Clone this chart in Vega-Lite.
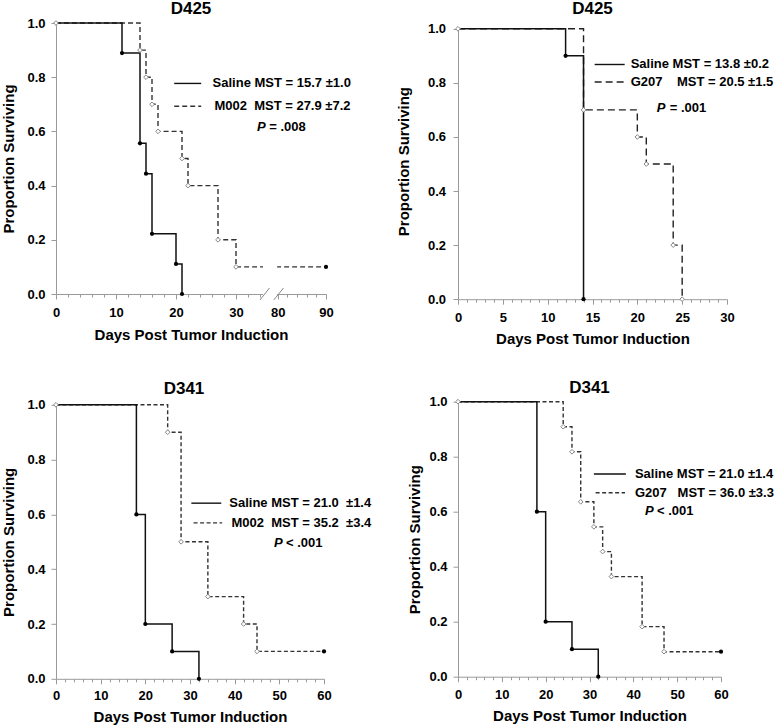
{
  "$schema": "https://vega.github.io/schema/vega-lite/v6.json",
  "background": "white",
  "padding": {"left": 1, "top": 0, "right": 0, "bottom": 0},
  "datasets": {
    "d425_m002": [
      {"day": 0, "surv": 1, "group": "Saline", "status": "start"},
      {"day": 11, "surv": 0.889, "group": "Saline", "status": "death"},
      {"day": 14, "surv": 0.556, "group": "Saline", "status": "death"},
      {"day": 15, "surv": 0.444, "group": "Saline", "status": "death"},
      {"day": 16, "surv": 0.222, "group": "Saline", "status": "death"},
      {"day": 20, "surv": 0.111, "group": "Saline", "status": "death"},
      {"day": 21, "surv": 0, "group": "Saline", "status": "death"},
      {"day": 0, "surv": 1, "group": "M002", "status": "start"},
      {"day": 14, "surv": 0.9, "group": "M002", "status": "death"},
      {"day": 15, "surv": 0.8, "group": "M002", "status": "death"},
      {"day": 16, "surv": 0.7, "group": "M002", "status": "death"},
      {"day": 17, "surv": 0.6, "group": "M002", "status": "death"},
      {"day": 21, "surv": 0.5, "group": "M002", "status": "death"},
      {"day": 22, "surv": 0.4, "group": "M002", "status": "death"},
      {"day": 27, "surv": 0.2, "group": "M002", "status": "death"},
      {"day": 30, "surv": 0.1, "group": "M002", "status": "death"},
      {"day": 90, "surv": 0.1, "group": "M002", "status": "censored"}
    ],
    "d425_g207": [
      {"day": 0, "surv": 1, "group": "Saline", "status": "start"},
      {"day": 12, "surv": 0.9, "group": "Saline", "status": "death"},
      {"day": 14, "surv": 0, "group": "Saline", "status": "death"},
      {"day": 0, "surv": 1, "group": "G207", "status": "start"},
      {"day": 14, "surv": 0.7, "group": "G207", "status": "death"},
      {"day": 20, "surv": 0.6, "group": "G207", "status": "death"},
      {"day": 21, "surv": 0.5, "group": "G207", "status": "death"},
      {"day": 24, "surv": 0.2, "group": "G207", "status": "death"},
      {"day": 25, "surv": 0, "group": "G207", "status": "death"}
    ],
    "d341_m002": [
      {"day": 0, "surv": 1, "group": "Saline", "status": "start"},
      {"day": 18, "surv": 0.6, "group": "Saline", "status": "death"},
      {"day": 20, "surv": 0.2, "group": "Saline", "status": "death"},
      {"day": 26, "surv": 0.1, "group": "Saline", "status": "death"},
      {"day": 32, "surv": 0, "group": "Saline", "status": "death"},
      {"day": 0, "surv": 1, "group": "M002", "status": "start"},
      {"day": 25, "surv": 0.9, "group": "M002", "status": "death"},
      {"day": 28, "surv": 0.5, "group": "M002", "status": "death"},
      {"day": 34, "surv": 0.3, "group": "M002", "status": "death"},
      {"day": 42, "surv": 0.2, "group": "M002", "status": "death"},
      {"day": 45, "surv": 0.1, "group": "M002", "status": "death"},
      {"day": 60, "surv": 0.1, "group": "M002", "status": "censored"}
    ],
    "d341_g207": [
      {"day": 0, "surv": 1, "group": "Saline", "status": "start"},
      {"day": 18, "surv": 0.6, "group": "Saline", "status": "death"},
      {"day": 20, "surv": 0.2, "group": "Saline", "status": "death"},
      {"day": 26, "surv": 0.1, "group": "Saline", "status": "death"},
      {"day": 32, "surv": 0, "group": "Saline", "status": "death"},
      {"day": 0, "surv": 1, "group": "G207", "status": "start"},
      {"day": 24, "surv": 0.909, "group": "G207", "status": "death"},
      {"day": 26, "surv": 0.818, "group": "G207", "status": "death"},
      {"day": 28, "surv": 0.636, "group": "G207", "status": "death"},
      {"day": 31, "surv": 0.545, "group": "G207", "status": "death"},
      {"day": 33, "surv": 0.455, "group": "G207", "status": "death"},
      {"day": 35, "surv": 0.364, "group": "G207", "status": "death"},
      {"day": 42, "surv": 0.182, "group": "G207", "status": "death"},
      {"day": 47, "surv": 0.091, "group": "G207", "status": "death"},
      {"day": 60, "surv": 0.091, "group": "G207", "status": "censored"}
    ]
  },
  "config": {
    "font": "Liberation Sans",
    "view": {"stroke": null},
    "axis": {
      "domainColor": "#9a9a9a", "tickColor": "#9a9a9a", "domainWidth": 1, "tickWidth": 1,
      "labelFont": "Liberation Sans", "labelFontSize": 13, "labelFontWeight": "bold", "labelColor": "#000",
      "titleFont": "Liberation Sans", "titleFontSize": 15, "titleFontWeight": "bold", "titleColor": "#000",
      "grid": false, "labelFlush": false, "labelOverlap": false
    },
    "title": {"font": "Liberation Sans", "fontSize": 17, "fontWeight": "bold", "color": "#000", "anchor": "middle", "frame": "group"}
  },
  "spacing": 24,
  "hconcat": [
    {
      "spacing": 37.8,
      "vconcat": [
        {
          "width": 270, "height": 271,
          "title": {"text": "D425", "offset": -1},
          "data": {"name": "d425_m002"},
          "encoding": {
            "x": {"field": "day", "type": "quantitative",
                  "scale": {"domain": [0, 34.5, 78, 90], "range": [0, 207, 212, 270], "nice": false},
                  "axis": {"title": "Days Post Tumor Induction",
                           "values": [0,2,4,6,8,10,12,14,16,18,20,22,24,26,28,30,32,34,80,82,84,86,88,90],
                           "labelExpr": "datum.value % 10 === 0 ? datum.label : ''",
                           "tickSize": {"condition": {"test": "datum.value % 10 === 0", "value": 5}, "value": 3},
                           "labelPadding": 7, "titlePadding": 8}},
            "y": {"field": "surv", "type": "quantitative", "scale": {"domain": [0, 1], "nice": false},
                  "axis": {"title": "Proportion Surviving", "values": [0,0.2,0.4,0.6,0.8,1], "format": ".1f",
                           "tickSize": 5, "labelPadding": 6, "titlePadding": 10}}
          },
          "layer": [
            {"transform": [{"filter": "datum.group !== 'Saline'"}],
             "mark": {"type": "line", "interpolate": "step-after", "color": "#333", "strokeWidth": 1.4, "strokeDash": [5, 3]},
             "encoding": {}},
            {"transform": [{"filter": "datum.group === 'Saline'"}],
             "mark": {"type": "line", "interpolate": "step-after", "color": "#111", "strokeWidth": 1.5},
             "encoding": {}},
            {"transform": [{"filter": "datum.day === 0 && datum.group === 'Saline'"}],
             "mark": {"type": "rect", "color": "white"},
             "encoding": {"x": {"datum": 34.7}, "x2": {"datum": 79.9}, "y": {"datum": -0.03}, "y2": {"datum": 0.13}}},
            {"transform": [{"filter": "datum.day === 0 && datum.group === 'Saline'"}],
             "mark": {"type": "rule", "color": "#888", "strokeWidth": 1},
             "encoding": {"x": {"datum": 34.0}, "x2": {"datum": 78.3}, "y": {"datum": -0.022}, "y2": {"datum": 0.022}}},
            {"transform": [{"filter": "datum.day === 0 && datum.group === 'Saline'"}],
             "mark": {"type": "rule", "color": "#888", "strokeWidth": 1},
             "encoding": {"x": {"datum": 79.2}, "x2": {"datum": 81.2}, "y": {"datum": -0.022}, "y2": {"datum": 0.022}}},
            {"transform": [{"filter": "(datum.group === 'Saline' && datum.status !== 'start') || datum.status === 'censored'"}],
             "mark": {"type": "point", "shape": "circle", "filled": true, "color": "#000", "size": 18, "opacity": 1}},
            {"transform": [{"filter": "datum.group !== 'Saline' && datum.status !== 'censored'"}],
             "mark": {"type": "point", "shape": "diamond", "filled": true, "fill": "white", "stroke": "#888", "strokeWidth": 1, "size": 22, "opacity": 1}},
            {"transform": [{"filter": "datum.day === 0 && datum.group === 'Saline'"}],
             "mark": {"type": "rule", "color": "#111", "strokeWidth": 1.4},
             "encoding": {"x": {"datum": 19.7}, "x2": {"datum": 24.2}, "y": {"datum": 0.777}}},
            {"transform": [{"filter": "datum.day === 0 && datum.group === 'Saline'"}],
             "mark": {"type": "rule", "color": "#333", "strokeWidth": 1.4, "strokeDash": [5, 3]},
             "encoding": {"x": {"datum": 19.7}, "x2": {"datum": 24.2}, "y": {"datum": 0.693}}},
            {"transform": [{"filter": "datum.day === 0 && datum.group === 'Saline'"}],
             "mark": {"type": "text", "text": "Saline MST = 15.7 ±1.0", "align": "left", "baseline": "middle", "fontSize": 13, "fontWeight": "bold", "color": "#000"},
             "encoding": {"x": {"datum": 26.1}, "y": {"datum": 0.777}}},
            {"transform": [{"filter": "datum.day === 0 && datum.group === 'Saline'"}],
             "mark": {"type": "text", "text": "M002\u00a0 MST = 27.9 ±7.2", "align": "left", "baseline": "middle", "fontSize": 13, "fontWeight": "bold", "color": "#000"},
             "encoding": {"x": {"datum": 26.4}, "y": {"datum": 0.693}}},
            {"transform": [{"filter": "datum.day === 0 && datum.group === 'Saline'"}],
             "mark": {"type": "text", "text": "P", "align": "left", "baseline": "middle", "fontSize": 13, "fontWeight": "bold", "fontStyle": "italic", "color": "#000"},
             "encoding": {"x": {"datum": 33.5}, "y": {"datum": 0.615}}},
            {"transform": [{"filter": "datum.day === 0 && datum.group === 'Saline'"}],
             "mark": {"type": "text", "text": "= .008", "align": "left", "baseline": "middle", "fontSize": 13, "fontWeight": "bold", "dx": 12.3, "color": "#000"},
             "encoding": {"x": {"datum": 33.5}, "y": {"datum": 0.615}}}
          ]
        },
        {
          "width": 268, "height": 274,
          "title": {"text": "D341", "offset": 1, "dx": -6},
          "data": {"name": "d341_m002"},
          "encoding": {
            "x": {"field": "day", "type": "quantitative",
                  "scale": {"domain": [0, 60], "nice": false},
                  "axis": {"title": "Days Post Tumor Induction",
                           "values": [0,2,4,6,8,10,12,14,16,18,20,22,24,26,28,30,32,34,36,38,40,42,44,46,48,50,52,54,56,58,60],
                           "labelExpr": "datum.value % 10 === 0 ? datum.label : ''",
                           "tickSize": {"condition": {"test": "datum.value % 10 === 0", "value": 5}, "value": 3},
                           "labelPadding": 6, "titlePadding": 7}},
            "y": {"field": "surv", "type": "quantitative", "scale": {"domain": [0, 1], "nice": false},
                  "axis": {"title": "Proportion Surviving", "values": [0,0.2,0.4,0.6,0.8,1], "format": ".1f",
                           "tickSize": 5, "labelPadding": 6, "titlePadding": 10}}
          },
          "layer": [
            {"transform": [{"filter": "datum.group !== 'Saline'"}],
             "mark": {"type": "line", "interpolate": "step-after", "color": "#333", "strokeWidth": 1.4, "strokeDash": [4, 2.5]},
             "encoding": {}},
            {"transform": [{"filter": "datum.group === 'Saline'"}],
             "mark": {"type": "line", "interpolate": "step-after", "color": "#111", "strokeWidth": 1.5},
             "encoding": {}},
            {"transform": [{"filter": "(datum.group === 'Saline' && datum.status !== 'start') || datum.status === 'censored'"}],
             "mark": {"type": "point", "shape": "circle", "filled": true, "color": "#000", "size": 18, "opacity": 1}},
            {"transform": [{"filter": "datum.group !== 'Saline' && datum.status !== 'censored'"}],
             "mark": {"type": "point", "shape": "diamond", "filled": true, "fill": "white", "stroke": "#888", "strokeWidth": 1, "size": 22, "opacity": 1}},
            {"transform": [{"filter": "datum.day === 0 && datum.group === 'Saline'"}],
             "mark": {"type": "rule", "color": "#111", "strokeWidth": 1.4},
             "encoding": {"x": {"datum": 30.3}, "x2": {"datum": 37.0}, "y": {"datum": 0.641}}},
            {"transform": [{"filter": "datum.day === 0 && datum.group === 'Saline'"}],
             "mark": {"type": "rule", "color": "#333", "strokeWidth": 1.4, "strokeDash": [4, 2.5]},
             "encoding": {"x": {"datum": 30.8}, "x2": {"datum": 37.2}, "y": {"datum": 0.569}}},
            {"transform": [{"filter": "datum.day === 0 && datum.group === 'Saline'"}],
             "mark": {"type": "text", "text": "Saline MST = 21.0\u00a0 ±1.4", "align": "left", "baseline": "middle", "fontSize": 13, "fontWeight": "bold", "color": "#000"},
             "encoding": {"x": {"datum": 38.8}, "y": {"datum": 0.641}}},
            {"transform": [{"filter": "datum.day === 0 && datum.group === 'Saline'"}],
             "mark": {"type": "text", "text": "M002\u00a0 MST = 35.2\u00a0 ±3.4", "align": "left", "baseline": "middle", "fontSize": 13, "fontWeight": "bold", "color": "#000"},
             "encoding": {"x": {"datum": 39.3}, "y": {"datum": 0.569}}},
            {"transform": [{"filter": "datum.day === 0 && datum.group === 'Saline'"}],
             "mark": {"type": "text", "text": "P", "align": "left", "baseline": "middle", "fontSize": 13, "fontWeight": "bold", "fontStyle": "italic", "color": "#000"},
             "encoding": {"x": {"datum": 48.8}, "y": {"datum": 0.497}}},
            {"transform": [{"filter": "datum.day === 0 && datum.group === 'Saline'"}],
             "mark": {"type": "text", "text": "< .001", "align": "left", "baseline": "middle", "fontSize": 13, "fontWeight": "bold", "dx": 12, "color": "#000"},
             "encoding": {"x": {"datum": 48.8}, "y": {"datum": 0.497}}}
          ]
        }
      ]
    },
    {
      "spacing": 31.7,
      "vconcat": [
        {
          "width": 269, "height": 276.2,
          "title": {"text": "D425", "offset": 4.8},
          "data": {"name": "d425_g207"},
          "encoding": {
            "x": {"field": "day", "type": "quantitative",
                  "scale": {"domain": [0, 30], "nice": false},
                  "axis": {"title": "Days Post Tumor Induction",
                           "values": [0,1,2,3,4,5,6,7,8,9,10,11,12,13,14,15,16,17,18,19,20,21,22,23,24,25,26,27,28,29,30],
                           "labelExpr": "datum.value % 5 === 0 ? datum.label : ''",
                           "tickSize": {"condition": {"test": "datum.value % 5 === 0", "value": 5}, "value": 3},
                           "labelPadding": 7, "titlePadding": 7}},
            "y": {"field": "surv", "type": "quantitative", "scale": {"domain": [0, 1.02145], "nice": false},
                  "axis": {"title": "Proportion Surviving", "values": [0,0.2,0.4,0.6,0.8,1], "format": ".1f", "domain": false,
                           "tickSize": 5, "labelPadding": 7.5, "titlePadding": 15.5}}
          },
          "layer": [
            {"transform": [{"filter": "datum.day === 0 && datum.group === 'Saline'"}],
             "mark": {"type": "rule", "color": "#9a9a9a", "strokeWidth": 1, "xOffset": 0.5},
             "encoding": {"x": {"datum": 0}, "y": {"datum": 0}, "y2": {"datum": 1}}},
            {"transform": [{"filter": "datum.group !== 'Saline'"}],
             "mark": {"type": "line", "interpolate": "step-after", "color": "#222", "strokeWidth": 1.4, "strokeDash": [7, 4]},
             "encoding": {}},
            {"transform": [{"filter": "datum.group === 'Saline'"}],
             "mark": {"type": "line", "interpolate": "step-after", "color": "#111", "strokeWidth": 1.5},
             "encoding": {}},
            {"transform": [{"filter": "(datum.group === 'Saline' && datum.status !== 'start') || datum.status === 'censored'"}],
             "mark": {"type": "point", "shape": "circle", "filled": true, "color": "#000", "size": 18, "opacity": 1}},
            {"transform": [{"filter": "datum.group !== 'Saline' && datum.status !== 'censored'"}],
             "mark": {"type": "point", "shape": "diamond", "filled": true, "fill": "white", "stroke": "#888", "strokeWidth": 1, "size": 22, "opacity": 1}},
            {"transform": [{"filter": "datum.day === 0 && datum.group === 'Saline'"}],
             "mark": {"type": "rule", "color": "#111", "strokeWidth": 1.4},
             "encoding": {"x": {"datum": 15.24}, "x2": {"datum": 18.59}, "y": {"datum": 0.868}}},
            {"transform": [{"filter": "datum.day === 0 && datum.group === 'Saline'"}],
             "mark": {"type": "rule", "color": "#222", "strokeWidth": 1.4, "strokeDash": [7, 4]},
             "encoding": {"x": {"datum": 15.24}, "x2": {"datum": 18.59}, "y": {"datum": 0.803}}},
            {"transform": [{"filter": "datum.day === 0 && datum.group === 'Saline'"}],
             "mark": {"type": "text", "text": "Saline MST = 13.8 ±0.2", "align": "left", "baseline": "middle", "fontSize": 13, "fontWeight": "bold", "color": "#000"},
             "encoding": {"x": {"datum": 19.26}, "y": {"datum": 0.868}}},
            {"transform": [{"filter": "datum.day === 0 && datum.group === 'Saline'"}],
             "mark": {"type": "text", "text": "G207\u00a0\u00a0\u00a0 MST = 20.5 ±1.5", "align": "left", "baseline": "middle", "fontSize": 13, "fontWeight": "bold", "color": "#000"},
             "encoding": {"x": {"datum": 19.26}, "y": {"datum": 0.803}}},
            {"transform": [{"filter": "datum.day === 0 && datum.group === 'Saline'"}],
             "mark": {"type": "text", "text": "P", "align": "left", "baseline": "middle", "fontSize": 13, "fontWeight": "bold", "fontStyle": "italic", "color": "#000"},
             "encoding": {"x": {"datum": 22.16}, "y": {"datum": 0.708}}},
            {"transform": [{"filter": "datum.day === 0 && datum.group === 'Saline'"}],
             "mark": {"type": "text", "text": "= .001", "align": "left", "baseline": "middle", "fontSize": 13, "fontWeight": "bold", "dx": 13, "color": "#000"},
             "encoding": {"x": {"datum": 22.16}, "y": {"datum": 0.708}}}
          ]
        },
        {
          "width": 263, "height": 275,
          "title": {"text": "D341", "offset": -1},
          "data": {"name": "d341_g207"},
          "encoding": {
            "x": {"field": "day", "type": "quantitative",
                  "scale": {"domain": [0, 60], "nice": false},
                  "axis": {"title": "Days Post Tumor Induction",
                           "values": [0,2,4,6,8,10,12,14,16,18,20,22,24,26,28,30,32,34,36,38,40,42,44,46,48,50,52,54,56,58,60],
                           "labelExpr": "datum.value % 10 === 0 ? datum.label : ''",
                           "tickSize": {"condition": {"test": "datum.value % 10 === 0", "value": 5}, "value": 3},
                           "labelPadding": 7, "titlePadding": 7}},
            "y": {"field": "surv", "type": "quantitative", "scale": {"domain": [0, 1], "nice": false},
                  "axis": {"title": "Proportion Surviving", "values": [0,0.2,0.4,0.6,0.8,1], "format": ".1f",
                           "tickSize": 5, "labelPadding": 6, "titlePadding": 6}}
          },
          "layer": [
            {"transform": [{"filter": "datum.group !== 'Saline'"}],
             "mark": {"type": "line", "interpolate": "step-after", "color": "#333", "strokeWidth": 1.4, "strokeDash": [4, 2.5]},
             "encoding": {}},
            {"transform": [{"filter": "datum.group === 'Saline'"}],
             "mark": {"type": "line", "interpolate": "step-after", "color": "#111", "strokeWidth": 1.5},
             "encoding": {}},
            {"transform": [{"filter": "(datum.group === 'Saline' && datum.status !== 'start') || datum.status === 'censored'"}],
             "mark": {"type": "point", "shape": "circle", "filled": true, "color": "#000", "size": 18, "opacity": 1}},
            {"transform": [{"filter": "datum.group !== 'Saline' && datum.status !== 'censored'"}],
             "mark": {"type": "point", "shape": "diamond", "filled": true, "fill": "white", "stroke": "#888", "strokeWidth": 1, "size": 22, "opacity": 1}},
            {"transform": [{"filter": "datum.day === 0 && datum.group === 'Saline'"}],
             "mark": {"type": "rule", "color": "#111", "strokeWidth": 1.4},
             "encoding": {"x": {"datum": 31.0}, "x2": {"datum": 38.3}, "y": {"datum": 0.737}}},
            {"transform": [{"filter": "datum.day === 0 && datum.group === 'Saline'"}],
             "mark": {"type": "rule", "color": "#333", "strokeWidth": 1.4, "strokeDash": [4, 2.5]},
             "encoding": {"x": {"datum": 31.4}, "x2": {"datum": 38.1}, "y": {"datum": 0.669}}},
            {"transform": [{"filter": "datum.day === 0 && datum.group === 'Saline'"}],
             "mark": {"type": "text", "text": "Saline MST = 21.0 ±1.4", "align": "left", "baseline": "middle", "fontSize": 13, "fontWeight": "bold", "color": "#000"},
             "encoding": {"x": {"datum": 40.36}, "y": {"datum": 0.737}}},
            {"transform": [{"filter": "datum.day === 0 && datum.group === 'Saline'"}],
             "mark": {"type": "text", "text": "G207\u00a0\u00a0 MST = 36.0 ±3.3", "align": "left", "baseline": "middle", "fontSize": 13, "fontWeight": "bold", "color": "#000"},
             "encoding": {"x": {"datum": 40.36}, "y": {"datum": 0.669}}},
            {"transform": [{"filter": "datum.day === 0 && datum.group === 'Saline'"}],
             "mark": {"type": "text", "text": "P", "align": "left", "baseline": "middle", "fontSize": 13, "fontWeight": "bold", "fontStyle": "italic", "color": "#000"},
             "encoding": {"x": {"datum": 42.65}, "y": {"datum": 0.602}}},
            {"transform": [{"filter": "datum.day === 0 && datum.group === 'Saline'"}],
             "mark": {"type": "text", "text": "< .001", "align": "left", "baseline": "middle", "fontSize": 13, "fontWeight": "bold", "dx": 12, "color": "#000"},
             "encoding": {"x": {"datum": 42.65}, "y": {"datum": 0.602}}}
          ]
        }
      ]
    }
  ]
}
